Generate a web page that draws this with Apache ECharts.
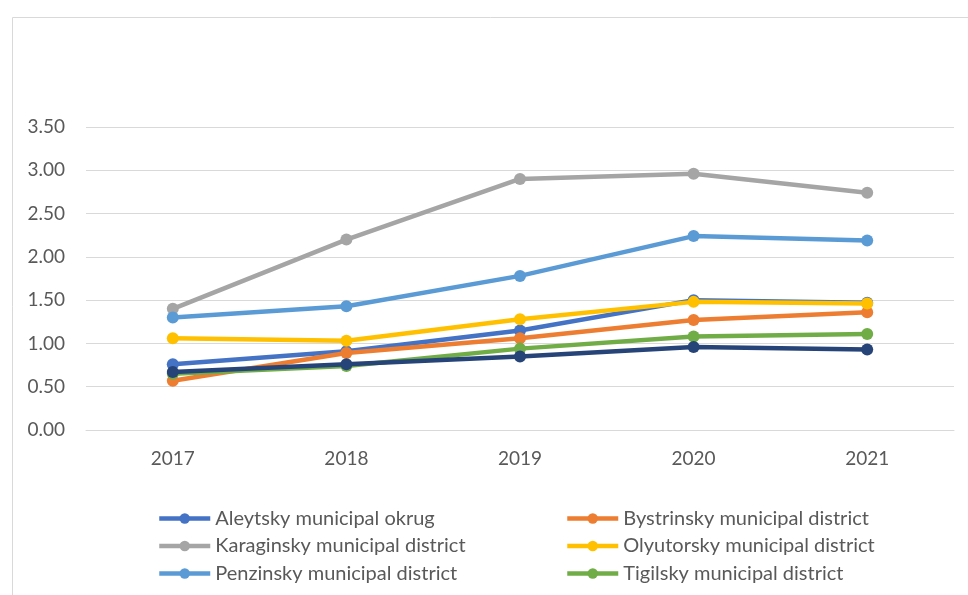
<!DOCTYPE html>
<html>
<head>
<meta charset="utf-8">
<script src="https://cdn.jsdelivr.net/npm/echarts@6/dist/echarts.min.js"></script>
<style>
  html, body { margin: 0; padding: 0; background: #fff; }
  #chart { width: 968px; height: 595px; }
</style>
</head>
<body>
<div id="chart"></div>
<script>
// data
const years = ['2017', '2018', '2019', '2020', '2021']
const yTicks = [0, 0.5, 1, 1.5, 2, 2.5, 3, 3.5]

const aleytsky = [0.76, 0.91, 1.15, 1.50, 1.47]
const bystrinsky = [0.57, 0.89, 1.06, 1.27, 1.36]
const karaginsky = [1.40, 2.20, 2.90, 2.96, 2.74]
const olyutorsky = [1.06, 1.03, 1.28, 1.48, 1.46]
const penzinsky = [1.30, 1.43, 1.78, 2.24, 2.19]
const tigilsky = [0.65, 0.74, 0.94, 1.08, 1.11]
const seventh = [0.67, 0.76, 0.85, 0.96, 0.93]

const names = [
  'Aleytsky municipal okrug',
  'Bystrinsky municipal district',
  'Karaginsky municipal district',
  'Olyutorsky municipal district',
  'Penzinsky municipal district',
  'Tigilsky municipal district',
  'Series 7'
]
const values = [aleytsky, bystrinsky, karaginsky, olyutorsky, penzinsky, tigilsky, seventh]
const colors = ['#4472C4', '#ED7D31', '#A5A5A5', '#FFC000', '#5B9BD5', '#70AD47', '#264478']

const font = 'Lato, "Open Sans", sans-serif'

const chart = echarts.init(document.getElementById('chart'))

// two legend columns, like the excel layout
const legendBase = {
  orient: 'vertical',
  top: 503,
  height: 120,
  itemWidth: 51,
  itemHeight: 13,
  itemGap: 6.5,
  lineStyle: { width: 4.5 },
  textStyle: { fontFamily: font, fontSize: 20, lineHeight: 21, color: '#595959' }
}

chart.setOption({
  animation: false,
  color: colors,
  graphic: [{
    type: 'rect',
    left: 10,
    top: 15,
    shape: { width: 1000, height: 700 },
    style: { fill: 'none', stroke: '#d9d9d9', lineWidth: 1 },
    silent: true
  }],
  grid: { left: 86, right: 14, top: 127, bottom: 165 },
  legend: [
    Object.assign({}, legendBase, { left: 152, data: [names[0], names[2], names[4]] }),
    Object.assign({}, legendBase, { left: 560, data: [names[1], names[3], names[5]] })
  ],
  xAxis: {
    type: 'category',
    data: years,
    boundaryGap: true,
    axisTick: { show: false },
    axisLine: { lineStyle: { color: '#d9d9d9', width: 1 } },
    axisLabel: { fontFamily: font, fontSize: 19, color: '#595959', margin: 19 }
  },
  yAxis: {
    type: 'value',
    min: yTicks[0],
    max: yTicks[yTicks.length - 1],
    interval: 0.5,
    axisLine: { show: false },
    axisTick: { show: false },
    splitLine: { lineStyle: { color: '#d9d9d9', width: 1 } },
    axisLabel: {
      fontFamily: font, fontSize: 19, color: '#595959', margin: 21,
      formatter: v => v.toFixed(2)
    }
  },
  series: values.map((d, i) => ({
    name: names[i],
    type: 'line',
    data: d,
    symbol: 'circle',
    symbolSize: 12,
    lineStyle: { width: 4.5, color: colors[i] },
    itemStyle: { color: colors[i] },
    z: 2 + i
  }))
})
</script>
</body>
</html>
